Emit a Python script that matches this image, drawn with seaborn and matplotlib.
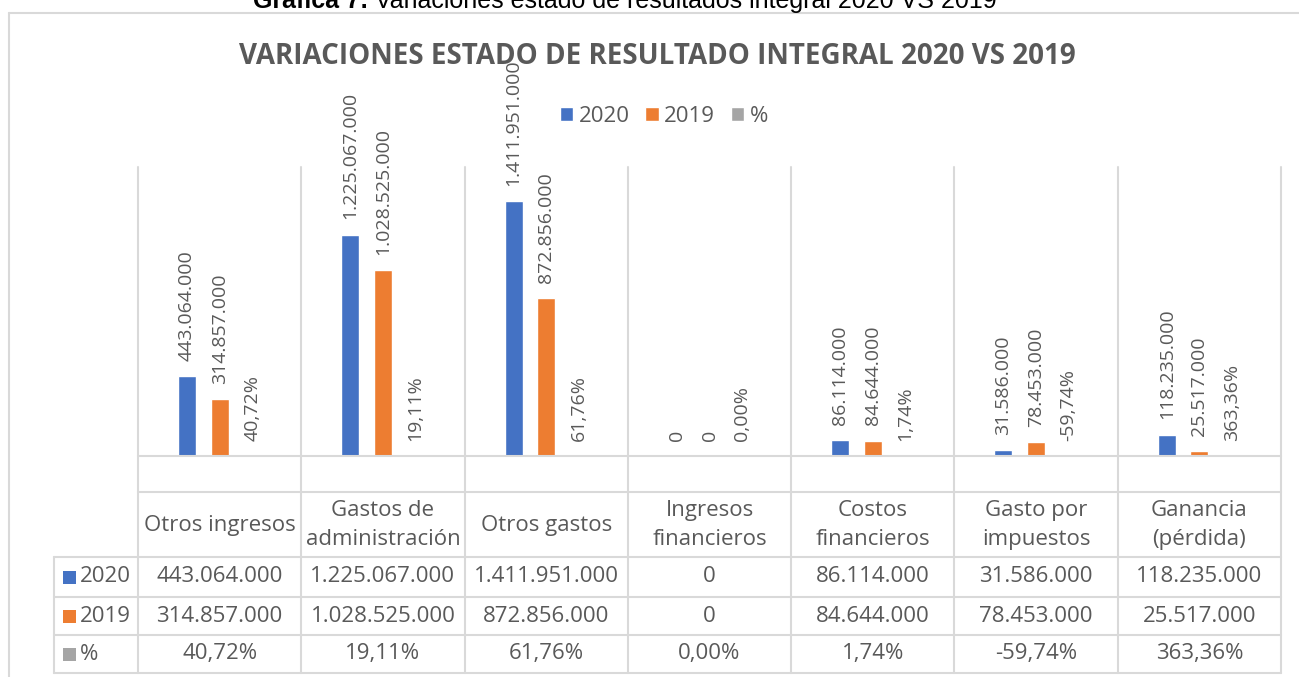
import numpy as np
import pandas as pd
import matplotlib.pyplot as plt
import matplotlib.transforms as mtransforms
from matplotlib.lines import Line2D
from matplotlib.patches import Rectangle
import seaborn as sns

categorias = ["Otros ingresos", "Gastos de administración", "Otros gastos",
              "Ingresos financieros", "Costos financieros", "Gasto por impuestos",
              "Ganancia (pérdida)"]
etiquetas_tabla = ["Otros ingresos", "Gastos de\nadministración", "Otros gastos",
                   "Ingresos\nfinancieros", "Costos\nfinancieros", "Gasto por\nimpuestos",
                   "Ganancia\n(pérdida)"]
series = ["2020", "2019", "%"]
valores_2020 = [443064000, 1225067000, 1411951000, 0, 86114000, 31586000, 118235000]
valores_2019 = [314857000, 1028525000, 872856000, 0, 84644000, 78453000, 25517000]
variacion_pct = [40.72, 19.11, 61.76, 0.00, 1.74, -59.74, 363.36]

colores = {"2020": "#4472C4", "2019": "#ED7D31", "%": "#A5A5A5"}
GRIS_TEXTO = "#595959"
GRIS_LINEA = "#D9D9D9"
W, H = 1299, 677


def miles(v):
    return f"{v:,}".replace(",", ".")


def porcentaje(p):
    return f"{p:.2f}".replace(".", ",") + "%"


def fx(px):
    return px / W


def fy(py):
    return 1 - py / H


def linea_fig(fig, xs, ys):
    fig.add_artist(Line2D(xs, ys, color=GRIS_LINEA, lw=1.5))


def main():
    sns.set_style("white")
    plt.rcParams['font.family'] = ['Open Sans', 'DejaVu Sans']

    df = pd.DataFrame({
        "Cuenta": categorias * 3,
        "Serie": [s for s in series for _ in categorias],
        "Valor": valores_2020 + valores_2019 + [p / 100 for p in variacion_pct],
    })

    fig = plt.figure(figsize=(W / 100, H / 100), dpi=100)
    ax = fig.add_axes([fx(138), fy(456), fx(1281) - fx(138), fy(167) - fy(456)])

    sns.barplot(data=df, x="Cuenta", y="Valor", hue="Serie", hue_order=series,
                order=categorias, palette=colores, saturation=1,
                width=0.6, gap=0.45, errorbar=None, ax=ax)
    ax.set_xlim(-0.5, len(categorias) - 0.5)
    ax.set_ylim(0, 1.6e9)
    ax.axis("off")

    # etiquetas de datos (rotadas)
    textos = [[miles(v) for v in valores_2020],
              [miles(v) for v in valores_2019],
              [porcentaje(p) for p in variacion_pct]]
    for cont, labs in zip(ax.containers, textos):
        for barra, lab in zip(cont, labs):
            x = barra.get_x() + barra.get_width() / 2
            y = max(barra.get_height(), 0)
            ax.annotate(lab, (x, y), xytext=(0, 11), textcoords="offset points",
                        rotation=90, ha="center", va="bottom", fontsize=14,
                        color=GRIS_TEXTO, annotation_clip=False)

    # leyenda
    sns.move_legend(ax, "center", bbox_to_anchor=(fx(664), fy(116)),
                    bbox_transform=fig.transFigure, ncol=3, frameon=False,
                    title=None, fontsize=16, handlelength=0.6, handleheight=0.6,
                    handletextpad=0.25, columnspacing=0.7, labelcolor=GRIS_TEXTO)

    # tabla de datos
    trans = mtransforms.blended_transform_factory(ax.transData, fig.transFigure)
    bordes = np.arange(len(categorias) + 1) - 0.5
    for b in bordes:
        ax.plot([b, b], [fy(167), fy(673)], transform=trans, color=GRIS_LINEA,
                lw=1.5, clip_on=False)
    for py in [456, 492]:
        ax.plot([bordes[0], bordes[-1]], [fy(py)] * 2, transform=trans,
                color=GRIS_LINEA, lw=1.5, clip_on=False)
    for py in [557, 597, 635, 673]:
        linea_fig(fig, [fx(54), fx(1281)], [fy(py)] * 2)
    linea_fig(fig, [fx(54)] * 2, [fy(557), fy(673)])

    for i, lab in enumerate(etiquetas_tabla):
        ax.text(i, fy(525), lab, transform=trans, ha="center", va="center",
                fontsize=16, linespacing=1.5, color=GRIS_TEXTO)

    filas_y = [577, 616, 654]
    for serie, labs, py in zip(series, textos, filas_y):
        fig.add_artist(Rectangle((fx(63), fy(py + 6.5)), fx(13), 13 / H,
                                 color=colores[serie], lw=0))
        fig.text(fx(80), fy(py), serie, ha="left", va="center", fontsize=16,
                 color=GRIS_TEXTO)
        for i, lab in enumerate(labs):
            ax.text(i, fy(py), lab, transform=trans, ha="center", va="center",
                    fontsize=16, color=GRIS_TEXTO)

    # titulo del grafico
    fig.text(fx(657), fy(56), "VARIACIONES ESTADO DE RESULTADO INTEGRAL 2020 VS 2019",
             ha="center", va="center", fontsize=20, weight="bold", color=GRIS_TEXTO)

    # borde del area del grafico
    linea_fig(fig, [fx(9), 1], [fy(13)] * 2)
    linea_fig(fig, [fx(9)] * 2, [fy(13), 0])

    # titulo de la grafica (cortado arriba, como en el original)
    t1 = fig.text(fx(253), fy(8), "Gráfica 7:", ha="left", va="baseline",
                  fontsize=18, weight="bold", family="Liberation Sans", color="black")
    fig.canvas.draw()
    bb = t1.get_window_extent(fig.canvas.get_renderer())
    fig.text(bb.x1 / W, fy(8), " Variaciones estado de resultados integral 2020 VS 2019",
             ha="left", va="baseline", fontsize=18, family="Liberation Sans",
             color="black")

    fig.savefig("out.png", dpi=100)


if __name__ == "__main__":
    main()
